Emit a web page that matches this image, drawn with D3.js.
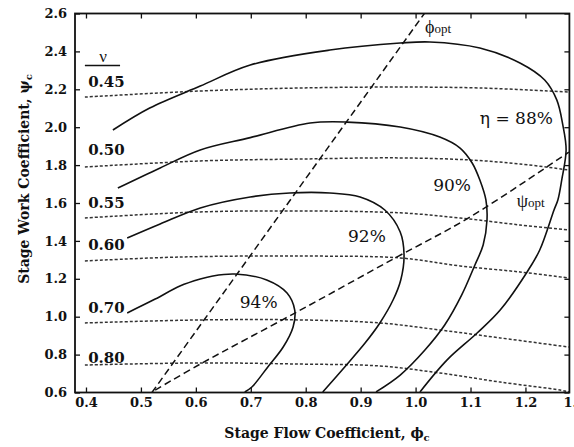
<!DOCTYPE html>
<html><head><meta charset="utf-8">
<script src="https://cdn.jsdelivr.net/npm/d3@7"></script>
<style>html,body{margin:0;padding:0;background:#fff;} svg{display:block}</style>
</head><body>
<svg id="c" width="574" height="447"></svg>
<script>
// ---- data ----
const xTickValues = [0.4, 0.5, 0.6, 0.7, 0.8, 0.9, 1.0, 1.1, 1.2, 1.3];
const yTickValues = [0.6, 0.8, 1.0, 1.2, 1.4, 1.6, 1.8, 2.0, 2.2, 2.4, 2.6];

// constant-nu lines (dotted): [phi, psi]
const nuLabels = ["0.45", "0.50", "0.55", "0.60", "0.70", "0.80"];
const nu045 = [[0.398,2.159],[0.608,2.191],[0.790,2.207],[0.972,2.212],[1.117,2.207],[1.279,2.186]];
const nu050 = [[0.398,1.790],[0.608,1.822],[0.790,1.832],[0.972,1.838],[1.099,1.827],[1.190,1.806],[1.279,1.774]];
const nu055 = [[0.398,1.521],[0.608,1.553],[0.790,1.558],[0.972,1.548],[1.081,1.521],[1.190,1.484],[1.279,1.458]];
const nu060 = [[0.398,1.294],[0.571,1.315],[0.790,1.320],[0.972,1.310],[1.081,1.268],[1.190,1.236],[1.279,1.204]];
const nu070 = [[0.398,0.967],[0.608,0.983],[0.790,0.983],[0.935,0.967],[1.044,0.930],[1.154,0.888],[1.279,0.840]];
const nu080 = [[0.398,0.745],[0.608,0.756],[0.790,0.750],[0.935,0.740],[1.044,0.703],[1.154,0.655],[1.263,0.613],[1.279,0.603]];
const nuLabelPsi = [2.212, 1.853, 1.574, 1.352, 1.020, 0.756];

// efficiency contours (solid)
const etaLabels = ["η = 88%", "90%", "92%", "94%"];
const eta88 = [[0.449,1.985],[0.516,2.101],[0.608,2.217],[0.699,2.328],[0.844,2.407],[0.972,2.444],[1.026,2.450],[1.117,2.418],[1.190,2.339],[1.235,2.249],[1.257,2.144],[1.268,2.012],[1.274,1.880],[1.266,1.721],[1.259,1.616],[1.252,1.563],[1.226,1.352],[1.203,1.236],[1.154,1.035],[1.112,0.914],[1.057,0.771],[1.008,0.603]];
const eta90 = [[0.458,1.679],[0.535,1.785],[0.608,1.880],[0.699,1.945],[0.808,2.022],[0.875,2.027],[0.972,2.001],[1.044,1.948],[1.081,1.890],[1.103,1.811],[1.117,1.721],[1.128,1.616],[1.130,1.510],[1.123,1.378],[1.108,1.273],[1.084,1.115],[1.053,0.956],[1.017,0.824],[0.972,0.692],[0.928,0.603]];
const eta92 = [[0.475,1.415],[0.535,1.489],[0.608,1.574],[0.699,1.632],[0.771,1.653],[0.844,1.653],[0.899,1.632],[0.944,1.563],[0.972,1.447],[0.979,1.326],[0.973,1.194],[0.959,1.088],[0.935,0.967],[0.908,0.861],[0.871,0.735],[0.831,0.603]];
const eta94 = [[0.475,1.020],[0.526,1.093],[0.571,1.162],[0.608,1.199],[0.631,1.215],[0.671,1.225],[0.729,1.194],[0.766,1.125],[0.780,1.035],[0.777,0.946],[0.759,0.840],[0.731,0.735],[0.702,0.629],[0.689,0.603]];
const etaLabelPos = [[1.117,2.017],[1.032,1.663],[0.877,1.394],[0.680,1.046]];

// optimum lines (dashed)
const phiOpt = [[0.520,0.600],[1.016,2.600]];
const psiOpt = [[0.526,0.613],[0.608,0.750],[0.784,1.025],[0.959,1.304],[1.099,1.526],[1.279,1.869]];
const optLabelPos = [[1.017,2.497],[1.184,1.579]];

// ---- drawing ----
const svg = d3.select("#c");
const x = d3.scaleLinear().domain([0.38, 1.28]).range([75, 569.4]);
const y = d3.scaleLinear().domain([0.6, 2.6]).range([392.5, 13.5]);
const SERIF = "'DejaVu Serif', 'Liberation Serif', serif";
const TIMES = "'Liberation Serif', 'DejaVu Serif', serif";

svg.append("defs").append("clipPath").attr("id","clip")
  .append("rect").attr("x",75).attr("y",13.5).attr("width",494.4).attr("height",379);

const line = d3.line().x(d => x(d[0])).y(d => y(d[1])).curve(d3.curveCatmullRom.alpha(0.5));
const straight = d3.line().x(d => x(d[0])).y(d => y(d[1]));

const plot = svg.append("g").attr("clip-path","url(#clip)");

[nu045, nu050, nu055, nu060, nu070, nu080].forEach(s => {
  plot.append("path").attr("d", line(s)).attr("fill","none")
    .attr("stroke","#333").attr("stroke-width",1.5).attr("stroke-dasharray","3,2");
});
[eta88, eta90, eta92, eta94].forEach(s => {
  plot.append("path").attr("d", line(s)).attr("fill","none")
    .attr("stroke","#111").attr("stroke-width",1.6);
});
plot.append("path").attr("d", straight(phiOpt)).attr("fill","none")
  .attr("stroke","#111").attr("stroke-width",1.5).attr("stroke-dasharray","7,4");
plot.append("path").attr("d", line(psiOpt)).attr("fill","none")
  .attr("stroke","#111").attr("stroke-width",1.5).attr("stroke-dasharray","7,4");

// axes
function styleAxis(g){
  g.select(".domain").remove();
  g.selectAll(".tick line").attr("stroke","#111").attr("stroke-width",1.3);
  g.selectAll("text").attr("font-family",SERIF).attr("font-weight","bold")
    .attr("font-size",13).attr("fill","#111");
}
const xAxisG = svg.append("g").attr("transform","translate(0,392.5)")
  .call(d3.axisBottom(x).tickValues(xTickValues).tickSize(-5).tickPadding(5).tickFormat(d3.format(".1f")))
  .call(styleAxis);
// last label sits at the window edge, as in the cropped original
xAxisG.selectAll(".tick text").filter(d => d === 1.3).attr("dx", -6);
svg.append("g").attr("transform","translate(0,13.5)")
  .call(d3.axisTop(x).tickValues(xTickValues).tickSize(-5).tickFormat(""))
  .call(styleAxis);
svg.append("g").attr("transform","translate(75,0)")
  .call(d3.axisLeft(y).tickValues(yTickValues).tickSize(-5).tickPadding(8).tickFormat(d3.format(".1f")))
  .call(styleAxis);
svg.append("g").attr("transform","translate(569.4,0)")
  .call(d3.axisRight(y).tickValues(yTickValues).tickSize(-5).tickFormat(""))
  .call(styleAxis);

svg.append("rect").attr("x",75).attr("y",13.5).attr("width",494.4).attr("height",379)
  .attr("fill","none").attr("stroke","#111").attr("stroke-width",1.8);

// axis titles
const xt = svg.append("text").attr("x",327).attr("y",438).attr("text-anchor","middle")
  .attr("font-family",SERIF).attr("font-weight","bold").attr("font-size",14).attr("fill","#111");
xt.append("tspan").text("Stage Flow Coefficient, ϕ");
xt.append("tspan").attr("font-size",10).attr("dy",3).text("c");

const yt = svg.append("text").attr("transform","translate(29,179) rotate(-90)").attr("text-anchor","middle")
  .attr("font-family",SERIF).attr("font-weight","bold").attr("font-size",14).attr("fill","#111");
yt.append("tspan").text("Stage Work Coefficient, ψ");
yt.append("tspan").attr("font-size",10).attr("dy",3).text("c");

// nu header and labels
svg.append("text").attr("x",x(0.404)+15).attr("y",62).attr("text-anchor","middle")
  .attr("font-family",TIMES).attr("font-size",17).attr("fill","#111").text("ν");
svg.append("line").attr("x1",x(0.398)).attr("x2",x(0.462)).attr("y1",65.5).attr("y2",65.5)
  .attr("stroke","#111").attr("stroke-width",1.6);
nuLabels.forEach((t,i) => {
  svg.append("text").attr("x",x(0.404)).attr("y",y(nuLabelPsi[i]))
    .attr("font-family",SERIF).attr("font-weight","bold").attr("font-size",15)
    .attr("fill","#111").text(t);
});

// efficiency labels
etaLabels.forEach((t,i) => {
  svg.append("text").attr("x",x(etaLabelPos[i][0])).attr("y",y(etaLabelPos[i][1]))
    .attr("font-family",SERIF).attr("font-size",17).attr("fill","#111").text(t);
});

// optimum labels
[["ϕ","opt"],["ψ","opt"]].forEach((p,i) => {
  const t = svg.append("text").attr("x",x(optLabelPos[i][0])).attr("y",y(optLabelPos[i][1]))
    .attr("font-family",TIMES).attr("font-size",18).attr("fill","#111");
  t.append("tspan").text(p[0]);
  t.append("tspan").attr("font-size",13).text(p[1]);
});
</script>
</body></html>
